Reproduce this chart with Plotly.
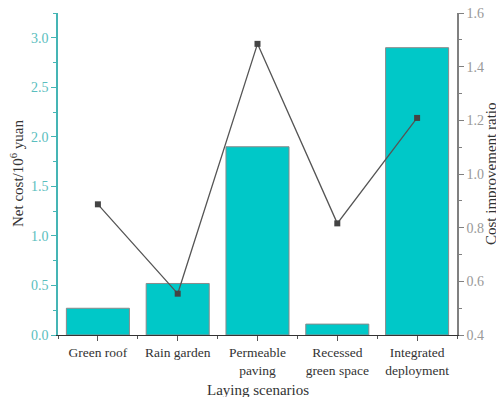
import plotly.graph_objects as go

categories = ["Green roof", "Rain garden", "Permeable<br>paving", "Recessed<br>green space", "Integrated<br>deployment"]
net_cost = [0.27, 0.52, 1.90, 0.11, 2.90]
cost_ratio = [0.887, 0.554, 1.485, 0.816, 1.209]

idx = list(range(len(categories)))
FONT = "Liberation Serif, Times New Roman, serif"
TEAL_AX = "#45B5B5"
TEAL_TXT = "#5ABEBE"
GRAY_AX = "#808080"
TITLE_FONT = dict(family=FONT, size=15, color="#333333")

fig = go.Figure()
fig.add_trace(go.Bar(
    x=idx, y=net_cost, width=0.79,
    marker=dict(color="#00C8C8", line=dict(color="#8A8A8A", width=1)),
    showlegend=False, yaxis="y"))
fig.add_trace(go.Scatter(
    x=idx, y=cost_ratio, mode="lines+markers",
    line=dict(color="#555555", width=1.3),
    marker=dict(symbol="square", size=6, color="#444444"),
    showlegend=False, yaxis="y2"))

# the page body adds an 8px offset, so the figure is sized/placed to compensate
fig.update_layout(
    width=496, height=389,
    margin=dict(l=50, r=47, t=5, b=62),
    paper_bgcolor="white", plot_bgcolor="white",
    font=dict(family=FONT, size=13, color="#333333"),
    xaxis=dict(
        range=[-0.5, 4.5], tickvals=idx, ticktext=categories, automargin=False,
        showline=True, linecolor="#333333", linewidth=1.2,
        ticks="outside", ticklen=5, tickcolor="#555555",
        minor=dict(tick0=0.5, dtick=1, ticks="outside", ticklen=3, tickcolor="#555555"),
        showgrid=False, zeroline=False,
        tickfont=dict(family=FONT, size=13.5, color="#333333"),
    ),
    yaxis=dict(
        range=[0, 3.25], dtick=0.5, tickformat=".1f", automargin=False,
        showline=True, linecolor=TEAL_AX, linewidth=1.5,
        ticks="outside", ticklen=5, tickcolor=TEAL_AX,
        minor=dict(dtick=0.25, ticks="outside", ticklen=3, tickcolor=TEAL_AX),
        showgrid=False, zeroline=False, ticklabeloverflow="allow",
        tickfont=dict(family=FONT, size=14, color=TEAL_TXT),
    ),
    yaxis2=dict(
        range=[0.4, 1.6], dtick=0.2, tickformat=".1f", automargin=False,
        overlaying="y", side="right",
        showline=True, linecolor=GRAY_AX, linewidth=1.5,
        ticks="outside", ticklen=5, tickcolor=GRAY_AX,
        minor=dict(dtick=0.1, ticks="outside", ticklen=3, tickcolor=GRAY_AX),
        showgrid=False, zeroline=False, ticklabeloverflow="allow",
        tickfont=dict(family=FONT, size=14, color="#999999"),
    ),
    annotations=[
        dict(text="Laying scenarios", xref="paper", yref="paper", x=0.5, y=0,
             xanchor="center", yanchor="middle", yshift=-55, showarrow=False, font=TITLE_FONT),
        dict(text="Net cost/10<sup>6</sup> yuan", xref="paper", yref="paper", x=0, y=0.5,
             xanchor="center", yanchor="middle", xshift=-41, textangle=-90, showarrow=False, font=TITLE_FONT),
        dict(text="Cost improvement ratio", xref="paper", yref="paper", x=1, y=0.5,
             xanchor="center", yanchor="middle", xshift=34, textangle=-90, showarrow=False, font=TITLE_FONT),
    ],
)

fig.write_html("out.html")
